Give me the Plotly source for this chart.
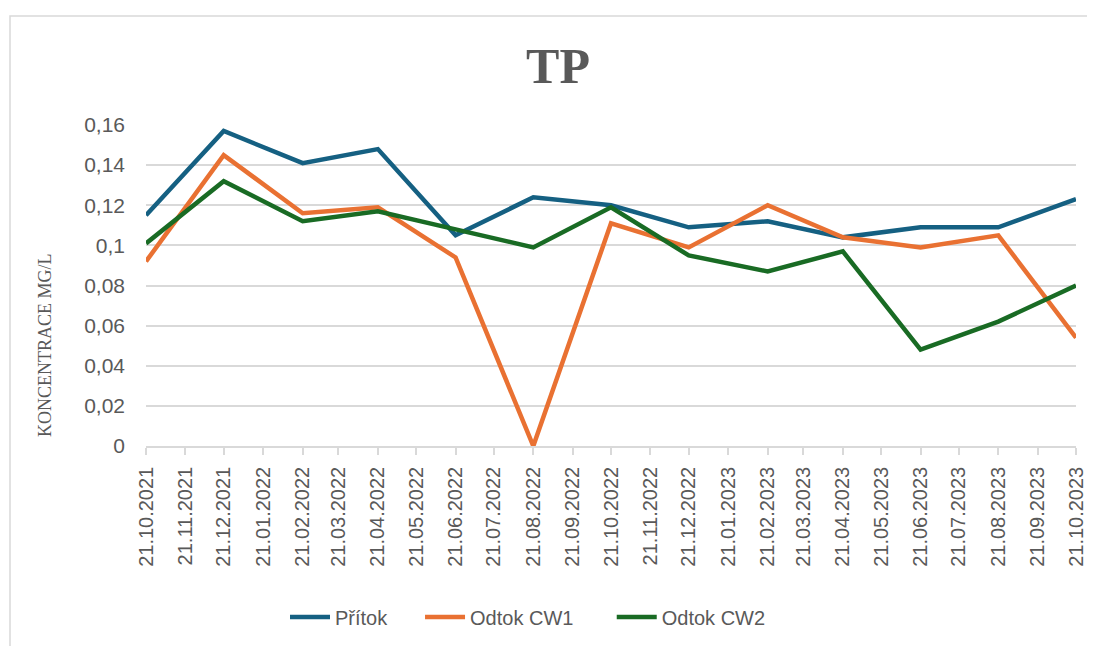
import pandas as pd
import plotly.graph_objects as go

# ---- data ----
sample_dates = ["21.10.2021", "21.12.2021", "21.02.2022", "21.04.2022", "21.06.2022",
                "21.08.2022", "21.10.2022", "21.12.2022", "21.02.2023", "21.04.2023",
                "21.06.2023", "21.08.2023", "21.10.2023"]
pritok = [0.115, 0.157, 0.141, 0.148, 0.105, 0.124, 0.120, 0.109, 0.112, 0.104, 0.109, 0.109, 0.123]
odtok_cw1 = [0.092, 0.145, 0.116, 0.119, 0.094, 0.000, 0.111, 0.099, 0.120, 0.104, 0.099, 0.105, 0.054]
odtok_cw2 = [0.101, 0.132, 0.112, 0.117, 0.108, 0.099, 0.119, 0.095, 0.087, 0.097, 0.048, 0.062, 0.080]
series_names = ["Přítok", "Odtok CW1", "Odtok CW2"]
tick_labels = ["21.10.2021", "21.11.2021", "21.12.2021", "21.01.2022", "21.02.2022",
               "21.03.2022", "21.04.2022", "21.05.2022", "21.06.2022", "21.07.2022",
               "21.08.2022", "21.09.2022", "21.10.2022", "21.11.2022", "21.12.2022",
               "21.01.2023", "21.02.2023", "21.03.2023", "21.04.2023", "21.05.2023",
               "21.06.2023", "21.07.2023", "21.08.2023", "21.09.2023", "21.10.2023"]
y_ticks = [0, 0.02, 0.04, 0.06, 0.08, 0.1, 0.12, 0.14, 0.16]
y_tick_text = ["0", "0,02", "0,04", "0,06", "0,08", "0,1", "0,12", "0,14", "0,16"]

x = pd.to_datetime(sample_dates, format="%d.%m.%Y")
tick_vals = pd.to_datetime(tick_labels, format="%d.%m.%Y")

# page has an 8px body margin; figure coordinates = page coordinates - 8
OFF = 8
W, H = 1095 - OFF, 646 - OFF
L, T = 146 - OFF, 125 - OFF
R = W - (1076 - OFF)
B = H - (446 - OFF)
pw, ph = W - L - R, H - T - B


def px_x(page_x):
    return (page_x - OFF - L) / pw


def px_y(page_y):
    return ((T + ph) - (page_y - OFF)) / ph


grey = "#595959"
tick_font = dict(family="Liberation Sans, Arial, sans-serif", size=20, color=grey)
pads = ["\u00a0" * 5, "\u00a0" * 6, ""]

fig = go.Figure()
for name, p, vals, col in zip(series_names, pads, [pritok, odtok_cw1, odtok_cw2],
                              ["#156082", "#E97132", "#196B24"]):
    fig.add_trace(go.Scatter(x=x, y=vals, name=name + p, mode="lines",
                             line=dict(color=col, width=4.5)))

fig.update_layout(
    width=W, height=H,
    margin=dict(l=L, r=R, t=T, b=B, autoexpand=False),
    plot_bgcolor="white", paper_bgcolor="white",
    showlegend=True,
    title=dict(text="<b>TP</b>", x=(558 - OFF) / W, xref="container", xanchor="center",
               y=1 - (65 - OFF) / H, yref="container", yanchor="middle",
               font=dict(family="Liberation Serif, Times New Roman, serif", size=50, color=grey)),
    legend=dict(orientation="h", x=px_x(528), xanchor="center",
                y=px_y(617), yanchor="middle",
                font=tick_font, itemwidth=40, tracegroupgap=0,
                bgcolor="rgba(0,0,0,0)"),
    xaxis=dict(type="date", range=[tick_vals[0], tick_vals[-1]],
               tickvals=tick_vals, ticktext=tick_labels, tickangle=-90,
               tickfont=tick_font, showgrid=False, zeroline=False,
               showline=True, linecolor="#D9D9D9", linewidth=1.5,
               ticks="outside", ticklen=7, tickcolor="#D9D9D9", tickwidth=1.5,
               ticklabelstandoff=4),
    yaxis=dict(range=[0, 0.16], tickvals=y_ticks, ticktext=y_tick_text,
               tickfont=dict(family="Liberation Sans, Arial, sans-serif", size=21, color=grey),
               showgrid=True, gridcolor="#D9D9D9", gridwidth=1.5,
               zeroline=False, showline=False, ticks="", ticklabelstandoff=20),
    shapes=[dict(type="rect", xref="paper", yref="paper",
                 x0=px_x(10), x1=px_x(1130),
                 y0=px_y(700), y1=px_y(16),
                 line=dict(color="#D9D9D9", width=1.5), layer="below")],
    annotations=[dict(text="KONCENTRACE MG/L", textangle=-90, showarrow=False,
                      xref="paper", yref="paper",
                      x=px_x(45), y=px_y(345),
                      xanchor="center", yanchor="middle",
                      font=dict(family="Liberation Serif, Times New Roman, serif", size=18, color=grey))],
)

fig.write_html("out.html")
